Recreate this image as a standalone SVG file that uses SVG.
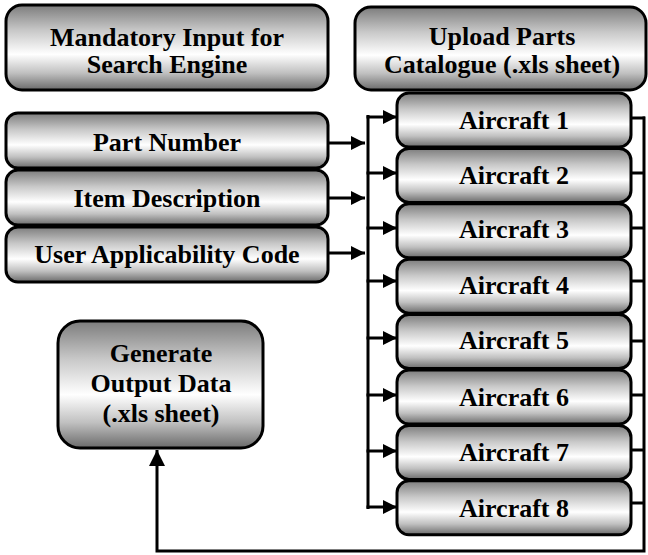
<svg xmlns="http://www.w3.org/2000/svg" width="648" height="555" viewBox="0 0 648 555">
<defs>
<linearGradient id="g" x1="0" y1="0" x2="0" y2="1">
<stop offset="0" stop-color="#7c7c7c"/>
<stop offset="0.3" stop-color="#c8c8c8"/>
<stop offset="0.58" stop-color="#ffffff"/>
<stop offset="0.8" stop-color="#c0c0c0"/>
<stop offset="1" stop-color="#6a6a6a"/>
</linearGradient>
<marker id="ah" viewBox="0 0 10 10" refX="10" refY="5" markerWidth="14" markerHeight="14" markerUnits="userSpaceOnUse" orient="auto">
<path d="M0,0 L10,5 L0,10 Z" fill="#000"/>
</marker>
<marker id="ahb" viewBox="0 0 10 10" refX="10" refY="5" markerWidth="16" markerHeight="16" markerUnits="userSpaceOnUse" orient="auto">
<path d="M0,0 L10,5 L0,10 Z" fill="#000"/>
</marker>
</defs>
<style>
.box{fill:url(#g);stroke:#000;stroke-width:3}
.t{font-family:"Liberation Serif","Times New Roman",serif;font-weight:bold;font-size:26px;text-anchor:middle;fill:#000}
.c{fill:none;stroke:#000;stroke-width:3}
</style>
<rect width="648" height="555" fill="#fff"/>

<g id="connectors">
<line class="c" x1="328" y1="143" x2="365" y2="143" marker-end="url(#ah)"/>
<line class="c" x1="328" y1="198" x2="365" y2="198" marker-end="url(#ah)"/>
<line class="c" x1="328" y1="253" x2="365" y2="253" marker-end="url(#ah)"/>
<line class="c" x1="368" y1="115" x2="368" y2="509"/>
<line class="c" x1="366.5" y1="117" x2="397" y2="117" marker-end="url(#ah)"/>
<line class="c" x1="366.5" y1="173" x2="397" y2="173" marker-end="url(#ah)"/>
<line class="c" x1="366.5" y1="228" x2="397" y2="228" marker-end="url(#ah)"/>
<line class="c" x1="366.5" y1="281" x2="397" y2="281" marker-end="url(#ah)"/>
<line class="c" x1="366.5" y1="338" x2="397" y2="338" marker-end="url(#ah)"/>
<line class="c" x1="366.5" y1="395" x2="397" y2="395" marker-end="url(#ah)"/>
<line class="c" x1="366.5" y1="451" x2="397" y2="451" marker-end="url(#ah)"/>
<line class="c" x1="366.5" y1="507" x2="397" y2="507" marker-end="url(#ah)"/>
<line class="c" x1="631" y1="118" x2="645" y2="118"/>
<line class="c" x1="631" y1="173" x2="645" y2="173"/>
<line class="c" x1="631" y1="228" x2="645" y2="228"/>
<line class="c" x1="631" y1="281" x2="645" y2="281"/>
<line class="c" x1="631" y1="341" x2="645" y2="341"/>
<line class="c" x1="631" y1="395" x2="645" y2="395"/>
<line class="c" x1="631" y1="450" x2="645" y2="450"/>
<line class="c" x1="631" y1="503" x2="645" y2="503"/>
<polyline class="c" points="644,116.5 644,551 157,551 157,450" marker-end="url(#ahb)"/>
</g>

<g id="mandatory">
<rect class="box" x="6" y="5" width="322" height="85" rx="16"/>
<text class="t" x="167" y="46">Mandatory Input for</text>
<text class="t" x="167" y="73">Search Engine</text>
</g>
<g id="upload">
<rect class="box" x="355" y="7" width="291" height="83" rx="16"/>
<text class="t" x="502" y="45">Upload Parts</text>
<text class="t" x="502" y="73">Catalogue (.xls sheet)</text>
</g>
<g id="part-number">
<rect class="box" x="6" y="113" width="322" height="55" rx="12"/>
<text class="t" x="167" y="151">Part Number</text>
</g>
<g id="item-description">
<rect class="box" x="6" y="170" width="322" height="55" rx="12"/>
<text class="t" x="167" y="207">Item Description</text>
</g>
<g id="user-code">
<rect class="box" x="6" y="227" width="322" height="55" rx="12"/>
<text class="t" x="167" y="263">User Applicability Code</text>
</g>
<g id="generate">
<rect class="box" x="58" y="321" width="205" height="127" rx="22"/>
<text class="t" x="161" y="362">Generate</text>
<text class="t" x="161" y="392">Output Data</text>
<text class="t" x="161" y="422">(.xls sheet)</text>
</g>
<g id="aircraft1">
<rect class="box" x="397" y="93" width="234" height="54" rx="12"/>
<text class="t" x="514" y="129">Aircraft 1</text>
</g>
<g id="aircraft2">
<rect class="box" x="397" y="148.4" width="234" height="54" rx="12"/>
<text class="t" x="514" y="184">Aircraft 2</text>
</g>
<g id="aircraft3">
<rect class="box" x="397" y="203.8" width="234" height="54" rx="12"/>
<text class="t" x="514" y="238">Aircraft 3</text>
</g>
<g id="aircraft4">
<rect class="box" x="397" y="259.2" width="234" height="54" rx="12"/>
<text class="t" x="514" y="294">Aircraft 4</text>
</g>
<g id="aircraft5">
<rect class="box" x="397" y="314.6" width="234" height="54" rx="12"/>
<text class="t" x="514" y="349">Aircraft 5</text>
</g>
<g id="aircraft6">
<rect class="box" x="397" y="370" width="234" height="54" rx="12"/>
<text class="t" x="514" y="406">Aircraft 6</text>
</g>
<g id="aircraft7">
<rect class="box" x="397" y="425.4" width="234" height="54" rx="12"/>
<text class="t" x="514" y="461">Aircraft 7</text>
</g>
<g id="aircraft8">
<rect class="box" x="397" y="480.8" width="234" height="54" rx="12"/>
<text class="t" x="514" y="517">Aircraft 8</text>
</g>
</svg>
